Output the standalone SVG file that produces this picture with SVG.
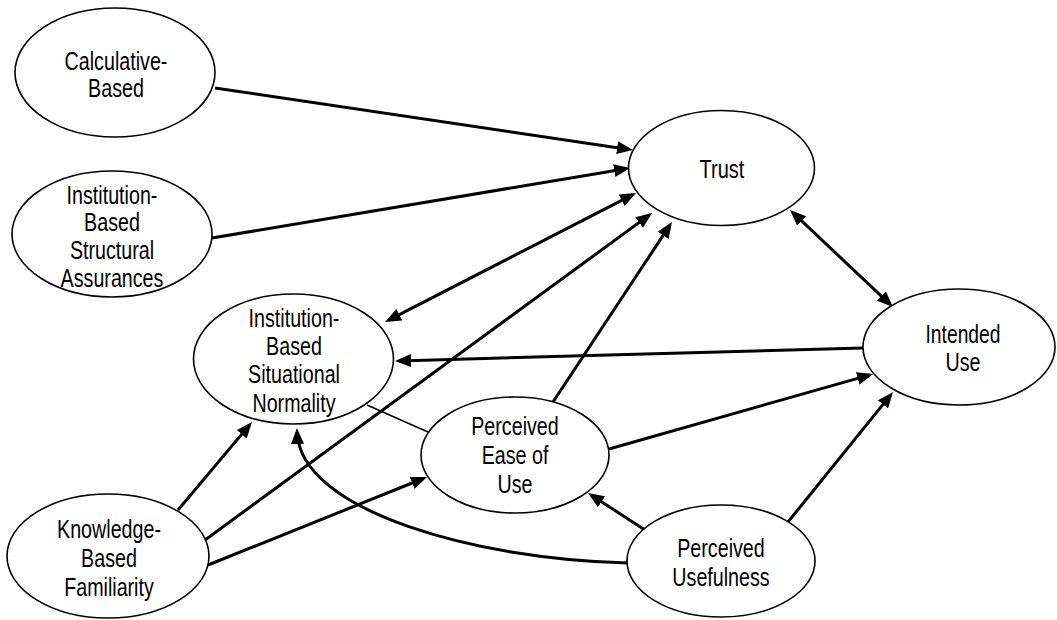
<svg xmlns="http://www.w3.org/2000/svg" width="1057" height="620" viewBox="0 0 1057 620">
  <style>
    .node ellipse { fill: #ffffff; stroke: #000000; stroke-width: 1.6; }
    .node text { font-family: "Liberation Sans", Arial, sans-serif; font-size: 25px; fill: #000000; text-anchor: middle; }
    .edge { fill: none; stroke: #000000; stroke-width: 3; }
    .thin { fill: none; stroke: #000000; stroke-width: 1.6; }
  </style>
  <defs>
    <!-- filled triangular arrowhead, tip sits 4px past the line end -->
    <marker id="head" markerUnits="userSpaceOnUse" markerWidth="17" markerHeight="14" refX="12" refY="6.5" orient="auto-start-reverse">
      <path d="M0,0 L16,6.5 L0,13 z" fill="#000000"/>
    </marker>
  </defs>
  <rect width="1057" height="620" fill="#ffffff"/>

  <!-- connectors -->
  <g id="connectors">
    <line class="edge" x1="215" y1="88" x2="629" y2="149.4" marker-end="url(#head)"/>
    <line class="edge" x1="212" y1="238" x2="626.1" y2="168.7" marker-end="url(#head)"/>
    <line class="edge" x1="388.6" y1="320.2" x2="632.4" y2="194.8" marker-start="url(#head)" marker-end="url(#head)"/>
    <line class="edge" x1="205" y1="540" x2="648.8" y2="215.4" marker-end="url(#head)"/>
    <line class="edge" x1="553" y1="402" x2="669.8" y2="225.3" marker-end="url(#head)"/>
    <line class="edge" x1="792.9" y1="212.7" x2="890.1" y2="304.3" marker-start="url(#head)" marker-end="url(#head)"/>
    <line class="edge" x1="863" y1="348" x2="399" y2="360.9" marker-end="url(#head)"/>
    <line class="edge" x1="609" y1="449" x2="869.2" y2="375.1" marker-end="url(#head)"/>
    <line class="edge" x1="788" y1="522" x2="890.5" y2="395.1" marker-end="url(#head)"/>
    <line class="edge" x1="645" y1="530" x2="591.4" y2="495.2" marker-end="url(#head)"/>
    <path class="edge" d="M628,563 C480,560 300,512 297.1,432" marker-end="url(#head)"/>
    <line class="edge" x1="178" y1="510" x2="249.4" y2="425.1" marker-end="url(#head)"/>
    <line class="edge" x1="208" y1="565" x2="423.3" y2="478.5" marker-end="url(#head)"/>
    <line class="thin" x1="367" y1="405" x2="428" y2="432"/>
  </g>

  <!-- nodes -->
  <g id="calculative-based" class="node">
    <ellipse cx="115" cy="72.5" rx="100" ry="64.5"/>
    <text x="116" y="70" textLength="102.8" lengthAdjust="spacingAndGlyphs">Calculative-</text>
    <text x="116" y="97" textLength="55.8" lengthAdjust="spacingAndGlyphs">Based</text>
  </g>
  <g id="structural-assurances" class="node">
    <ellipse cx="112" cy="234" rx="100" ry="63"/>
    <text x="112" y="204" textLength="90.8" lengthAdjust="spacingAndGlyphs">Institution-</text>
    <text x="112" y="231" textLength="55.8" lengthAdjust="spacingAndGlyphs">Based</text>
    <text x="112" y="259" textLength="84.2" lengthAdjust="spacingAndGlyphs">Structural</text>
    <text x="112" y="287" textLength="102.8" lengthAdjust="spacingAndGlyphs">Assurances</text>
  </g>
  <g id="trust" class="node">
    <ellipse cx="721.5" cy="168" rx="93" ry="57.5"/>
    <text x="722" y="178" textLength="44.8" lengthAdjust="spacingAndGlyphs">Trust</text>
  </g>
  <g id="situational-normality" class="node">
    <ellipse cx="293.5" cy="359" rx="100" ry="65"/>
    <text x="294" y="327" textLength="90.8" lengthAdjust="spacingAndGlyphs">Institution-</text>
    <text x="294" y="355" textLength="55.8" lengthAdjust="spacingAndGlyphs">Based</text>
    <text x="294" y="383" textLength="91.9" lengthAdjust="spacingAndGlyphs">Situational</text>
    <text x="294" y="412" textLength="83.1" lengthAdjust="spacingAndGlyphs">Normality</text>
  </g>
  <g id="intended-use" class="node">
    <ellipse cx="959" cy="347" rx="96" ry="58"/>
    <text x="963" y="343" textLength="75" lengthAdjust="spacingAndGlyphs">Intended</text>
    <text x="963" y="371" textLength="35" lengthAdjust="spacingAndGlyphs">Use</text>
  </g>
  <g id="perceived-ease-of-use" class="node">
    <ellipse cx="515" cy="455" rx="94" ry="58"/>
    <text x="515" y="435" textLength="87.5" lengthAdjust="spacingAndGlyphs">Perceived</text>
    <text x="515" y="464" textLength="66.7" lengthAdjust="spacingAndGlyphs">Ease of</text>
    <text x="515" y="493" textLength="35" lengthAdjust="spacingAndGlyphs">Use</text>
  </g>
  <g id="perceived-usefulness" class="node">
    <ellipse cx="721" cy="561" rx="94" ry="56"/>
    <text x="721" y="557" textLength="87.5" lengthAdjust="spacingAndGlyphs">Perceived</text>
    <text x="721" y="586" textLength="97.3" lengthAdjust="spacingAndGlyphs">Usefulness</text>
  </g>
  <g id="knowledge-based-familiarity" class="node">
    <ellipse cx="108" cy="556" rx="101" ry="62"/>
    <text x="109" y="538" textLength="103.9" lengthAdjust="spacingAndGlyphs">Knowledge-</text>
    <text x="109" y="567" textLength="55.8" lengthAdjust="spacingAndGlyphs">Based</text>
    <text x="109" y="596" textLength="89.6" lengthAdjust="spacingAndGlyphs">Familiarity</text>
  </g>
</svg>
